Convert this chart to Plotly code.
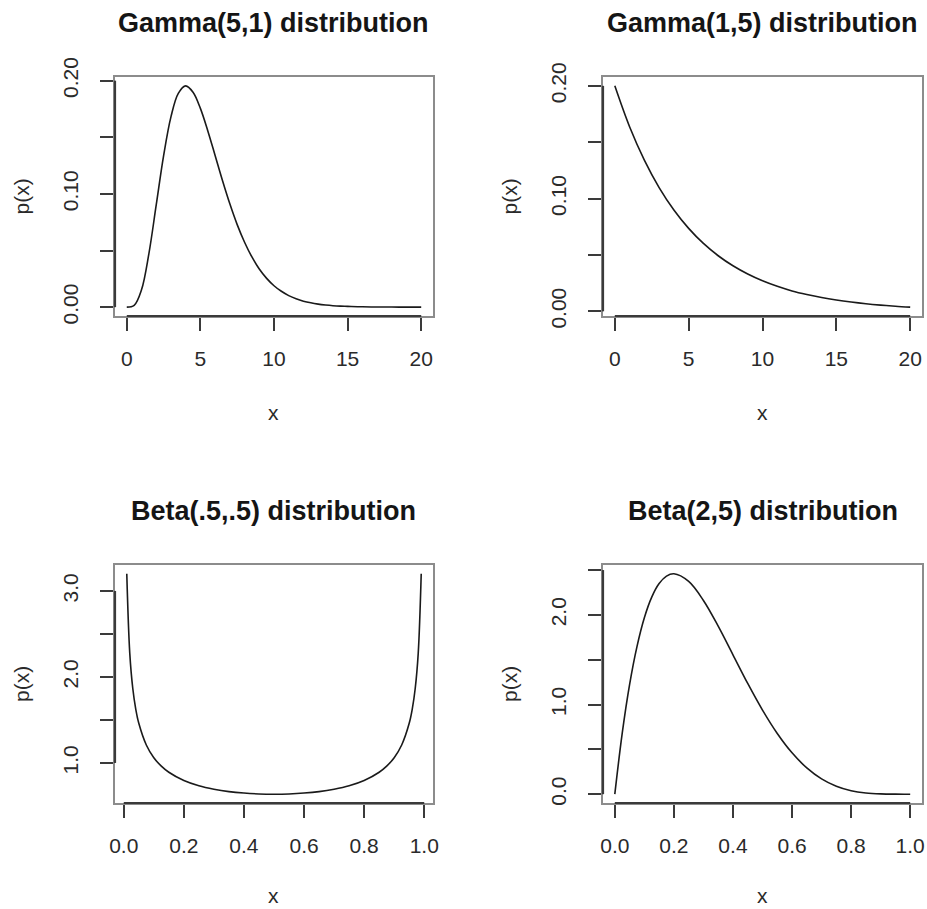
import plotly.graph_objects as go

# ---------------- data ----------------
gamma51_x = [0, 0.5, 1, 1.5, 2, 2.5, 3, 3.5, 4, 4.5, 5, 5.5, 6, 6.5, 7, 7.5, 8, 8.5, 9, 9.5,
             10, 10.5, 11, 11.5, 12, 12.5, 13, 13.5, 14, 14.5, 15, 16, 17, 18, 19, 20]
gamma51_y = [0.0, 0.0016, 0.0153, 0.0471, 0.0902, 0.1336, 0.1680, 0.1888, 0.1954, 0.1898,
             0.1755, 0.1558, 0.1339, 0.1118, 0.0912, 0.0729, 0.0573, 0.0443, 0.0337, 0.0254,
             0.0189, 0.0140, 0.0102, 0.0074, 0.0053, 0.0038, 0.0027, 0.0019, 0.0013, 0.0009,
             0.0007, 0.0003, 0.00014, 0.00007, 0.00003, 0.00001]

gamma15_x = [0, 1, 2, 3, 4, 5, 6, 7, 8, 9, 10, 11, 12, 13, 14, 15, 16, 17, 18, 19, 20]
gamma15_y = [0.2000, 0.1637, 0.1341, 0.1098, 0.0899, 0.0736, 0.0602, 0.0493, 0.0404, 0.0331,
             0.0271, 0.0222, 0.0181, 0.0149, 0.0122, 0.0100, 0.0082, 0.0067, 0.0055, 0.0045,
             0.0037]

beta55_x = [0.01, 0.02, 0.03, 0.04, 0.05, 0.075, 0.1, 0.125, 0.15, 0.2, 0.25, 0.3, 0.35, 0.4,
            0.45, 0.5, 0.55, 0.6, 0.65, 0.7, 0.75, 0.8, 0.85, 0.875, 0.9, 0.925, 0.95, 0.96,
            0.97, 0.98, 0.99]
beta55_y = [3.199, 2.274, 1.866, 1.624, 1.461, 1.209, 1.061, 0.963, 0.892, 0.796, 0.735,
            0.695, 0.667, 0.650, 0.640, 0.637, 0.640, 0.650, 0.667, 0.695, 0.735, 0.796,
            0.892, 0.963, 1.061, 1.209, 1.461, 1.624, 1.866, 2.274, 3.199]

beta25_x = [0, 0.025, 0.05, 0.075, 0.1, 0.125, 0.15, 0.175, 0.2, 0.25, 0.3, 0.35, 0.4, 0.45,
            0.5, 0.55, 0.6, 0.65, 0.7, 0.75, 0.8, 0.85, 0.9, 0.95, 1.0]
beta25_y = [0.0, 0.678, 1.222, 1.646, 1.968, 2.198, 2.349, 2.432, 2.458, 2.373, 2.161, 1.874,
            1.555, 1.235, 0.938, 0.677, 0.461, 0.293, 0.170, 0.088, 0.038, 0.013, 0.003,
            0.0002, 0.0]

titles = ["Gamma(5,1) distribution", "Gamma(1,5) distribution",
          "Beta(.5,.5) distribution", "Beta(2,5) distribution"]

gamma_xticks = [0, 5, 10, 15, 20]
gamma_xtext = ["0", "5", "10", "15", "20"]
beta_xticks = [0, 0.2, 0.4, 0.6, 0.8, 1.0]
beta_xtext = ["0.0", "0.2", "0.4", "0.6", "0.8", "1.0"]

gamma_yticks = [0, 0.05, 0.10, 0.15, 0.20]
gamma_ytext = ["0.00", "", "0.10", "", "0.20"]
beta55_yticks = [1.0, 1.5, 2.0, 2.5, 3.0]
beta55_ytext = ["1.0", "", "2.0", "", "3.0"]
beta25_yticks = [0, 0.5, 1.0, 1.5, 2.0, 2.5]
beta25_ytext = ["0.0", "", "1.0", "", "2.0", ""]

# ---------------- figure ----------------
W, H = 927, 909
FONT = "Liberation Sans, Arial, Helvetica, sans-serif"
TICK_SIZE = 21
TITLE_SIZE = 27
TXT = "#2a2a2a"
BOX = "#8c8c8c"
AXC = "#3a3a3a"


def px_x(v):
    return v / W


def px_y(v):
    return 1 - v / H


xdom_left = [px_x(115), px_x(433)]
xdom_right = [px_x(603), px_x(922)]
ydom_top = [px_y(316), px_y(77)]
ydom_bot = [px_y(803), px_y(565)]


def rpad(lo, hi):
    d = (hi - lo) * 0.04
    return [lo - d, hi + d]


panels = [
    dict(x=gamma51_x, y=gamma51_y, xd=xdom_left, yd=ydom_top, xlab=96,
         xt=gamma_xticks, xtt=gamma_xtext, yt=gamma_yticks, ytt=gamma_ytext),
    dict(x=gamma15_x, y=gamma15_y, xd=xdom_right, yd=ydom_top, xlab=96,
         xt=gamma_xticks, xtt=gamma_xtext, yt=gamma_yticks, ytt=gamma_ytext),
    dict(x=beta55_x, y=beta55_y, xd=xdom_left, yd=ydom_bot, xlab=92,
         xt=beta_xticks, xtt=beta_xtext, yt=beta55_yticks, ytt=beta55_ytext),
    dict(x=beta25_x, y=beta25_y, xd=xdom_right, yd=ydom_bot, xlab=92,
         xt=beta_xticks, xtt=beta_xtext, yt=beta25_yticks, ytt=beta25_ytext),
]

fig = go.Figure()
layout = dict(
    width=W, height=H,
    margin=dict(l=0, r=0, t=0, b=0, pad=0),
    paper_bgcolor="white", plot_bgcolor="white",
    showlegend=False,
    font=dict(family=FONT, size=TICK_SIZE, color=TXT),
)
annotations = []
shapes = []

for i, p in enumerate(panels):
    n = "" if i == 0 else str(i + 1)
    fig.add_trace(go.Scatter(x=p["x"], y=p["y"], mode="lines", line_shape="spline",
                             line=dict(color="#1a1a1a", width=1.6),
                             xaxis="x" + n, yaxis="y" + n, hoverinfo="skip"))
    axcommon = dict(showgrid=False, zeroline=False, showline=True, mirror=True,
                    linecolor=BOX, linewidth=2, ticks="outside", ticklen=13,
                    tickwidth=1.8, tickcolor=AXC, automargin=False,
                    tickfont=dict(family=FONT, size=TICK_SIZE, color=TXT))
    layout["xaxis" + n] = dict(domain=p["xd"], anchor="y" + n,
                               range=rpad(min(p["x"]), max(p["x"])),
                               tickvals=p["xt"], ticktext=p["xtt"],
                               ticklabelstandoff=10, **axcommon)
    layout["yaxis" + n] = dict(domain=p["yd"], anchor="x" + n,
                               range=rpad(min(p["y"]), max(p["y"])),
                               tickvals=p["yt"], ticktext=p["ytt"], tickangle=-90,
                               ticklabelstandoff=14, **axcommon)
    # R-style axis lines spanning the tick range only
    shapes.append(dict(type="line", xref="x" + n, yref="y" + n + " domain",
                       x0=p["xt"][0], x1=p["xt"][-1], y0=0, y1=0,
                       line=dict(color=AXC, width=2.2)))
    shapes.append(dict(type="line", xref="x" + n + " domain", yref="y" + n,
                       x0=0, x1=0, y0=p["yt"][0], y1=p["yt"][-1],
                       line=dict(color=AXC, width=2.2)))
    xc = (p["xd"][0] + p["xd"][1]) / 2
    # panel title
    annotations.append(dict(text="<b>" + titles[i] + "</b>", x=xc, y=p["yd"][1] + 54 / H,
                            xref="paper", yref="paper", showarrow=False,
                            xanchor="center", yanchor="middle",
                            font=dict(family=FONT, size=TITLE_SIZE, color="#151515")))
    # x axis title
    annotations.append(dict(text="x", x=xc, y=p["yd"][0] - p["xlab"] / H,
                            xref="paper", yref="paper", showarrow=False,
                            xanchor="center", yanchor="middle",
                            font=dict(family=FONT, size=TICK_SIZE, color=TXT)))
    # y axis title
    annotations.append(dict(text="p(x)", x=p["xd"][0] - 94 / W,
                            y=(p["yd"][0] + p["yd"][1]) / 2,
                            xref="paper", yref="paper", showarrow=False, textangle=-90,
                            xanchor="center", yanchor="middle",
                            font=dict(family=FONT, size=TICK_SIZE, color=TXT)))

layout["annotations"] = annotations
layout["shapes"] = shapes
fig.update_layout(**layout)
fig.write_html(
    "out.html",
    config={"displayModeBar": False},
    post_script="document.body.style.margin='0';document.body.style.overflow='hidden';",
)
